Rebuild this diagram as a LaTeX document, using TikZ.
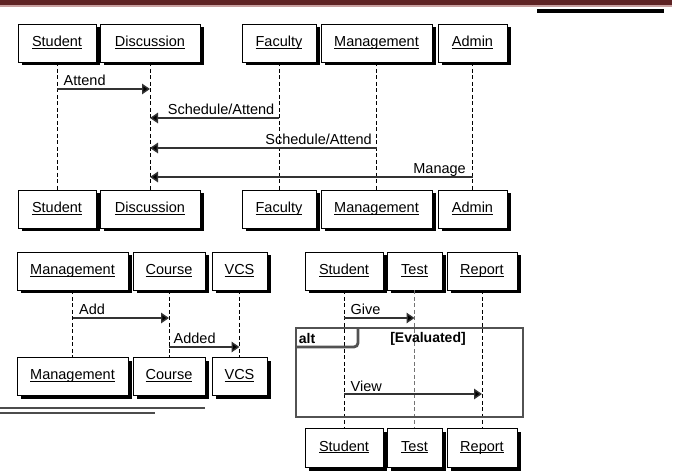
\documentclass[tikz,border=0pt]{standalone}
\usepackage{fontspec}
\setmainfont{Liberation Sans}
\usetikzlibrary{shadows,arrows.meta,positioning}

\definecolor{bandred}{HTML}{5E2324}
\definecolor{bandpink}{HTML}{C8A0A0}
\newcommand{\uname}[1]{\underline{\smash{#1}}}

\tikzset{
  obj/.style={draw, fill=white, line width=0.8pt, minimum height=38pt, inner sep=0pt,
    font=\fontsize{14.5}{16}\selectfont, text height=10.5pt, text depth=3pt,
    drop shadow={shadow xshift=3.5pt, shadow yshift=-3.5pt, fill=black, opacity=1}},
  life/.style={dash pattern=on 4pt off 2.5pt, line width=0.7pt},
  msg/.style={draw=black!80, line width=1.4pt, -{Triangle[length=8pt,width=10.5pt,fill=black]}},
  lbl/.style={font=\fontsize{14.5}{16}\selectfont, inner sep=1pt, yshift=3pt},
  altframe/.style={draw=black!68, line width=2.8pt}
}

\begin{document}
\begin{tikzpicture}[x=1pt, y=-1pt]
\useasboundingbox (0,0) rectangle (673,476);
\def \studentx {57}
\def \discx {150}
\def \facx {279}
\def \mgmtx {376.5}
\def \adminx {472.5}
\def \rowtop {43}
\def \rowbot {209}
\def \lowtop {271}

%Page band
\fill[bandred] (0,0) rectangle (672,5);
\fill[bandpink] (0,5) rectangle (672,7);
\fill[black] (537,9) rectangle (664,13);

%Discussion diagram
\node[obj, minimum width=78pt] (stu1) at (\studentx,\rowtop) {\uname{Student}};
\node[obj, minimum width=100pt] (disc1) at (\discx,\rowtop) {\uname{Discussion}};
\node[obj, minimum width=74pt] (fac1) at (\facx,\rowtop) {\uname{Faculty}};
\node[obj, minimum width=111pt] (mgmt1) at (\mgmtx,\rowtop) {\uname{Management}};
\node[obj, minimum width=69pt] (admin1) at (\adminx,\rowtop) {\uname{Admin}};

\node[obj, minimum width=78pt] (stu1b) at (\studentx,\rowbot) {\uname{Student}};
\node[obj, minimum width=100pt] (disc1b) at (\discx,\rowbot) {\uname{Discussion}};
\node[obj, minimum width=74pt] (fac1b) at (\facx,\rowbot) {\uname{Faculty}};
\node[obj, minimum width=111pt] (mgmt1b) at (\mgmtx,\rowbot) {\uname{Management}};
\node[obj, minimum width=69pt] (admin1b) at (\adminx,\rowbot) {\uname{Admin}};

\draw[life] (stu1.south) -- (stu1b.north);
\draw[life] (disc1.south) -- (disc1b.north);
\draw[life] (fac1.south) -- (fac1b.north);
\draw[life] (mgmt1.south) -- (mgmt1b.north);
\draw[life] (admin1.south) -- (admin1b.north);

\coordinate (attend) at (0,89);
\coordinate (schedA) at (0,118);
\coordinate (schedB) at (0,148);
\coordinate (manage) at (0,177);
\draw[msg] (stu1 |- attend) -- (disc1 |- attend) node[lbl, pos=0, anchor=base west, xshift=5pt] {Attend};
\draw[msg] (fac1 |- schedA) -- (disc1 |- schedA) node[lbl, pos=0, anchor=base east, xshift=-3pt] {Schedule/Attend};
\draw[msg] (mgmt1 |- schedB) -- (disc1 |- schedB) node[lbl, pos=0, anchor=base east, xshift=-3pt] {Schedule/Attend};
\draw[msg] (admin1 |- manage) -- (disc1 |- manage) node[lbl, pos=0, anchor=base east, xshift=-5pt] {Manage};

%Course diagram
\node[obj, minimum width=111pt] (mgmt2) at (72.5,\lowtop) {\uname{Management}};
\node[obj, minimum width=72pt] (course2) at (169,\lowtop) {\uname{Course}};
\node[obj, minimum width=55pt] (vcs2) at (239.5,\lowtop) {\uname{VCS}};

\node[obj, minimum width=111pt] (mgmt2b) at (72.5,376) {\uname{Management}};
\node[obj, minimum width=72pt] (course2b) at (169,376) {\uname{Course}};
\node[obj, minimum width=55pt] (vcs2b) at (239.5,376) {\uname{VCS}};

\draw[life] (mgmt2.south) -- (mgmt2b.north);
\draw[life] (course2.south) -- (course2b.north);
\draw[life] (vcs2.south) -- (vcs2b.north);

\coordinate (add) at (0,318);
\coordinate (added) at (0,347);
\draw[msg] (mgmt2 |- add) -- (course2 |- add) node[lbl, pos=0, anchor=base west, xshift=5pt] {Add};
\draw[msg] (course2 |- added) -- (vcs2 |- added) node[lbl, pos=0, anchor=base west, xshift=3pt] {Added};

%Rule under course diagram
\fill[black!70] (0,407) rectangle (205,409);
\fill[black!70] (0,412) rectangle (155,414);

%Test diagram
\node[obj, minimum width=78pt] (stu3) at (344,\lowtop) {\uname{Student}};
\node[obj, minimum width=55pt] (test3) at (414.5,\lowtop) {\uname{Test}};
\node[obj, minimum width=70pt] (rep3) at (482,\lowtop) {\uname{Report}};

\node[obj, minimum width=78pt, minimum height=39pt] (stu3b) at (344,447.5) {\uname{Student}};
\node[obj, minimum width=55pt, minimum height=39pt] (test3b) at (414.5,447.5) {\uname{Test}};
\node[obj, minimum width=70pt, minimum height=39pt] (rep3b) at (482,447.5) {\uname{Report}};

\draw[life] (stu3.south) -- (stu3b.north);
\draw[life, draw=black!55, line width=1.8pt] (test3.south) -- (test3b.north);
\draw[life] (rep3.south) -- (rep3b.north);

\coordinate (give) at (0,318);
\coordinate (view) at (0,394);
\draw[msg] (stu3 |- give) -- (test3 |- give) node[lbl, pos=0, anchor=base west, xshift=5pt] {Give};

%Alt fragment
\draw[altframe] (296,328) rectangle (523,417);
\draw[altframe, rounded corners=4pt] (296,347) -- (358,347) -- (358,328);
\node[font=\fontsize{14}{16}\selectfont\bfseries] (alt) at (307,338.5) {alt};
\node[font=\fontsize{14}{16}\selectfont\bfseries] (evaluated) at (428,338.5) {[Evaluated]};

\draw[msg] (stu3 |- view) -- (rep3 |- view) node[lbl, pos=0, anchor=base west, xshift=5pt] {View};

\end{tikzpicture}
\end{document}
